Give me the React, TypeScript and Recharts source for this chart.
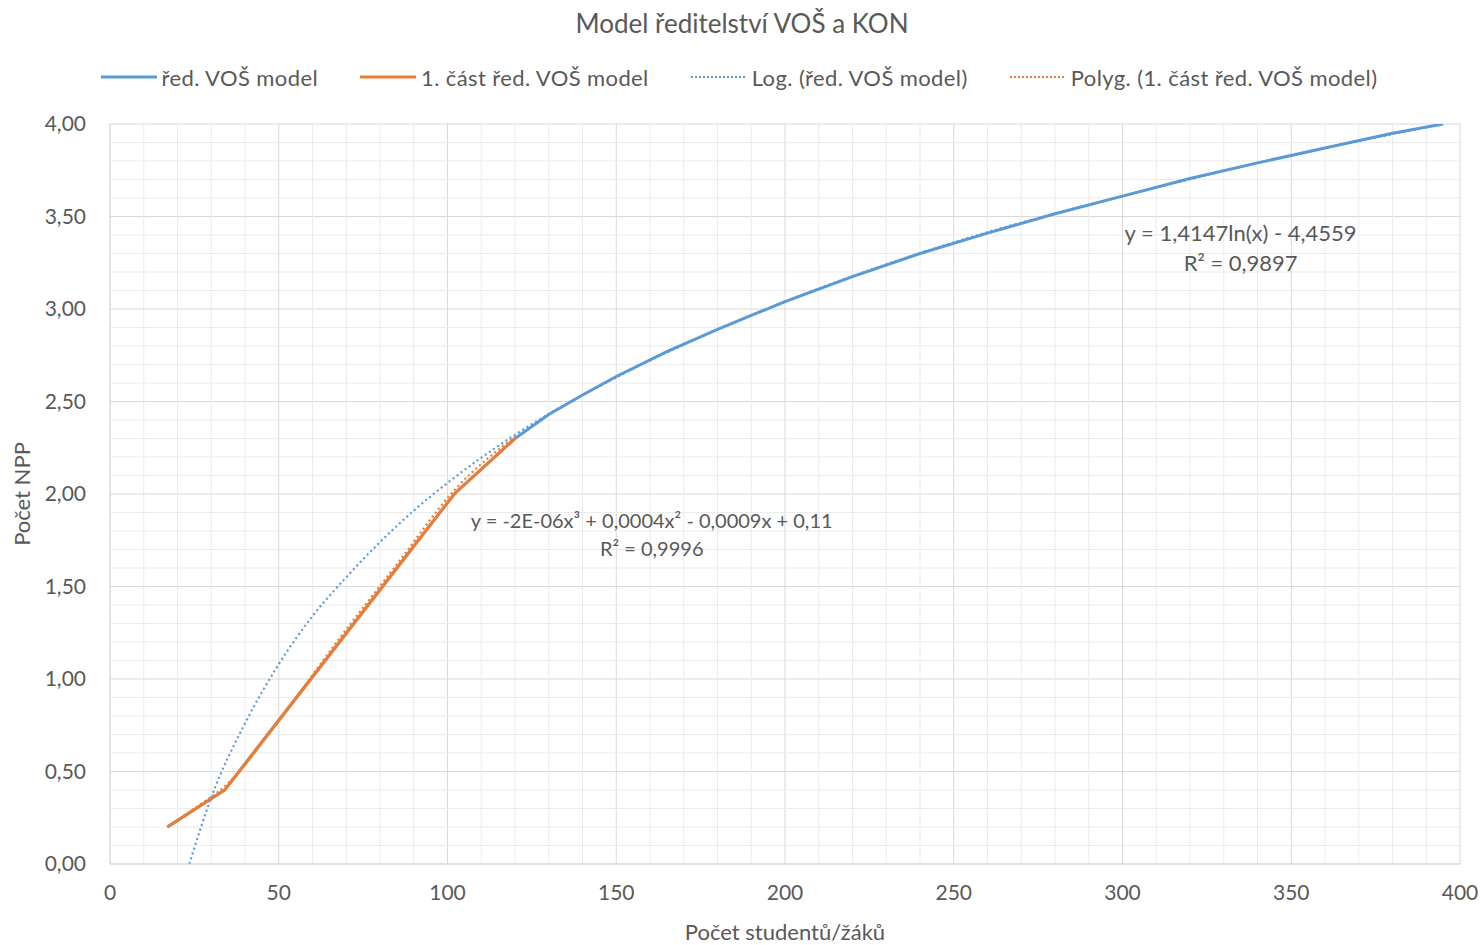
import React from 'react';
import { ComposedChart, Line, XAxis, YAxis, CartesianGrid, Legend, ReferenceDot, ReferenceLine } from 'recharts';

// ---- data ----
const modelX = [17, 34, 51, 68, 85, 102, 120, 130, 140, 150, 165, 180, 200, 220, 240, 260, 280, 300, 320, 340, 360, 380, 395];
const modelY = [0.2, 0.4, 0.8, 1.2, 1.6, 2.0, 2.3, 2.43, 2.535, 2.635, 2.77, 2.89, 3.04, 3.175, 3.3, 3.41, 3.515, 3.61, 3.705, 3.79, 3.87, 3.95, 4.0];

const part1X = [17, 34, 51, 68, 85, 102, 120];
const part1Y = [0.2, 0.4, 0.8, 1.2, 1.6, 2.0, 2.3];

const logTrendX = [23.5, 30, 40, 50, 60, 70, 80, 90, 100, 120, 150, 200, 250, 300, 350, 395];
const logTrendY = [0, 0.36, 0.76, 1.08, 1.34, 1.55, 1.74, 1.91, 2.06, 2.32, 2.63, 3.04, 3.36, 3.61, 3.83, 4.0];

const polyTrendX = [17, 25, 34, 51, 68, 85, 102, 120];
const polyTrendY = [0.2, 0.3, 0.42, 0.8, 1.22, 1.62, 2.02, 2.31];

const xTicks = [0, 50, 100, 150, 200, 250, 300, 350, 400];
const yTicks = [0, 0.5, 1, 1.5, 2, 2.5, 3, 3.5, 4];
const xMinorTicks: number[] = [];
for (let v = 10; v < 400; v += 10) if (v % 50 !== 0) xMinorTicks.push(v);
const yMinorTicks: number[] = [];
for (let i = 1; i < 40; i++) if (i % 5 !== 0) yMinorTicks.push(i / 10);

const title = 'Model ředitelství VOŠ a KON';
const seriesNames = ['řed. VOŠ model', '1. část řed. VOŠ model', 'Log. (řed. VOŠ model)', 'Polyg. (1. část řed. VOŠ model)'];
const xTitle = 'Počet studentů/žáků';
const yTitle = 'Počet NPP';
const logEq = 'y = 1,4147ln(x) - 4,4559';
const logR2 = 'R² = 0,9897';
const polyEq = 'y = -2E-06x³ + 0,0004x² - 0,0009x + 0,11';
const polyR2 = 'R² = 0,9996';

const BLUE = '#5B9BD5';
const ORANGE = '#ED7D31';
const TEXT = '#595959';
const FONT = 'Lato, "Open Sans", sans-serif';

const zip = (xs: number[], ys: number[]) => xs.map((x, i) => ({ x, y: ys[i] }));
const modelData = zip(modelX, modelY);
const part1Data = zip(part1X, part1Y);
const logData = zip(logTrendX, logTrendY);
const polyData = zip(polyTrendX, polyTrendY);

const fmtY = (v: number) => v.toFixed(2).replace('.', ',');

const legendItems = [
  { name: seriesNames[0], color: BLUE, dash: undefined as string | undefined },
  { name: seriesNames[1], color: ORANGE, dash: undefined as string | undefined },
  { name: seriesNames[2], color: BLUE, dash: '2 2' },
  { name: seriesNames[3], color: ORANGE, dash: '2 2' },
];

const LegendContent = () => (
  <div style={{ height: 62, width: 1484, position: 'relative', fontFamily: FONT }}>
    <div
      style={{
        position: 'absolute',
        top: 0,
        left: 0,
        width: 1484,
        height: 30,
        display: 'flex',
        justifyContent: 'center',
        alignItems: 'center',
        gap: 42,
        paddingRight: 6,
        boxSizing: 'border-box',
      }}
    >
      {legendItems.map((it) => (
        <div key={it.name} style={{ display: 'flex', alignItems: 'center' }}>
          <svg width={56} height={10} style={{ marginRight: 5 }}>
            <line x1={0} y1={5} x2={56} y2={5} stroke={it.color} strokeWidth={it.dash ? 2 : 3} strokeDasharray={it.dash} />
          </svg>
          <span style={{ fontSize: 22, letterSpacing: 0.4, color: TEXT, whiteSpace: 'nowrap' }}>{it.name}</span>
        </div>
      ))}
    </div>
  </div>
);

const annotationLabel = (text: string, size: number) => (props: any) => {
  const { viewBox } = props;
  const cx = viewBox.x + (viewBox.width || 0) / 2;
  const cy = viewBox.y + (viewBox.height || 0) / 2;
  return (
    <text x={cx} y={cy} textAnchor="middle" dominantBaseline="central" fill={TEXT} fontSize={size} fontFamily={FONT}>
      {text}
    </text>
  );
};

export default function App() {
  return (
    <div style={{ position: 'absolute', left: 0, top: 0, width: 1484, height: 945, background: '#fff' }}>
      <div
        style={{
          position: 'absolute',
          top: 7,
          left: 0,
          width: 1484,
          textAlign: 'center',
          fontFamily: FONT,
          fontSize: 26,
          color: TEXT,
        }}
      >
        {title}
      </div>
      <ComposedChart width={1484} height={945} margin={{ top: 62, right: 24, bottom: 41, left: 50 }}>
        <XAxis
          dataKey="x"
          type="number"
          domain={[0, 400]}
          ticks={xTicks}
          height={40}
          tickLine={false}
          tickSize={0}
          tickMargin={21}
          axisLine={{ stroke: '#d9d9d9' }}
          tick={{ fill: TEXT, fontSize: 21, fontFamily: FONT }}
          label={{ value: xTitle, position: 'insideBottom', offset: -36, fill: TEXT, fontSize: 22, fontFamily: FONT }}
        />
        <YAxis
          dataKey="y"
          type="number"
          domain={[0, 4]}
          ticks={yTicks}
          width={60}
          tickLine={false}
          tickSize={0}
          tickMargin={24}
          axisLine={{ stroke: '#d9d9d9' }}
          tickFormatter={fmtY}
          allowDataOverflow
          tick={{ fill: TEXT, fontSize: 21, fontFamily: FONT }}
          label={{ value: yTitle, angle: -90, position: 'insideLeft', offset: -28, fill: TEXT, fontSize: 22, fontFamily: FONT, style: { textAnchor: 'middle' } }}
        />
        {xMinorTicks.map((v) => (
          <ReferenceLine key={'mx' + v} x={v} stroke="#ebebeb" strokeWidth={1} ifOverflow="hidden" />
        ))}
        {yMinorTicks.map((v) => (
          <ReferenceLine key={'my' + v} y={v} stroke="#ebebeb" strokeWidth={1} ifOverflow="hidden" />
        ))}
        <CartesianGrid stroke="#d9d9d9" strokeWidth={1} />
        <Legend verticalAlign="top" align="left" content={<LegendContent />} wrapperStyle={{ left: 0, top: 62 }} />
        <Line data={modelData} dataKey="y" type="linear" stroke={BLUE} strokeWidth={3} dot={false} isAnimationActive={false} legendType="none" />
        <Line data={part1Data} dataKey="y" type="linear" stroke={ORANGE} strokeWidth={3} dot={false} isAnimationActive={false} legendType="none" />
        <Line data={logData} dataKey="y" type="monotone" stroke={BLUE} strokeWidth={2.2} strokeDasharray="2 3" dot={false} isAnimationActive={false} legendType="none" />
        <Line data={polyData} dataKey="y" type="monotone" stroke={ORANGE} strokeWidth={2.2} strokeDasharray="2 3" dot={false} isAnimationActive={false} legendType="none" />
        <ReferenceDot x={335} y={3.415} r={0} fill="none" stroke="none" label={annotationLabel(logEq, 22)} />
        <ReferenceDot x={335} y={3.25} r={0} fill="none" stroke="none" label={annotationLabel(logR2, 22)} />
        <ReferenceDot x={160.5} y={1.86} r={0} fill="none" stroke="none" label={annotationLabel(polyEq, 20)} />
        <ReferenceDot x={160.5} y={1.71} r={0} fill="none" stroke="none" label={annotationLabel(polyR2, 20)} />
      </ComposedChart>
    </div>
  );
}
